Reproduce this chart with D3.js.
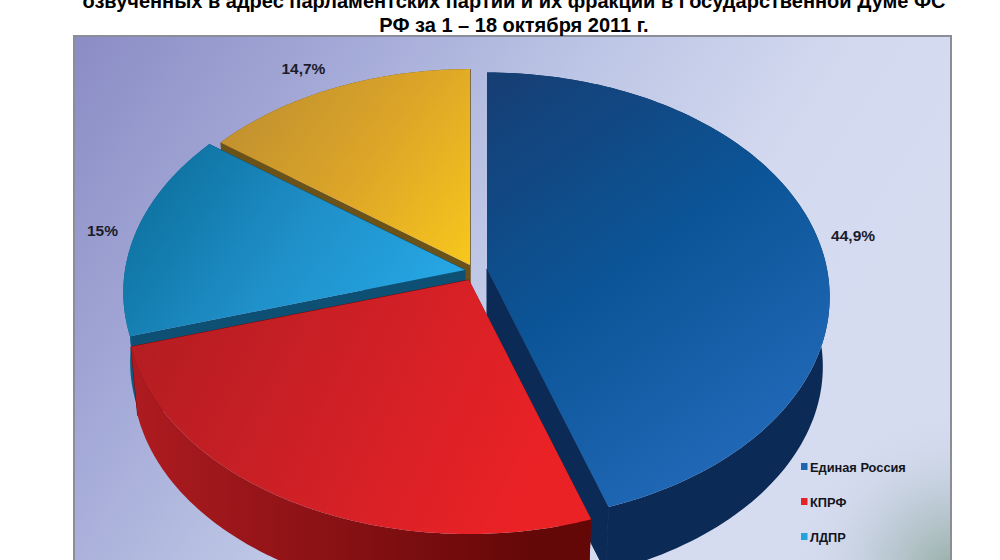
<!DOCTYPE html>
<html>
<head>
<meta charset="utf-8">
<script src="https://cdnjs.cloudflare.com/ajax/libs/d3/7.8.5/d3.min.js"></script>
<style>
    html, body { margin: 0; background: #fff; overflow: hidden; }
    text { font-family: "Liberation Sans", Arial, sans-serif; font-weight: bold; }
</style>
</head>
<body>
<div id="chart"></div>
<script>
const titleLines = [
    "озвученных в адрес парламентских партий и их фракций в Государственной Думе ФС",
    "РФ за 1 – 18 октября 2011 г."
];
const parties = ["Единая Россия", "КПРФ", "ЛДПР"];
const shares = [44.9, 25.4, 15, 14.7];

const width = 1000;
const height = 560;

// page geometry of the tilted pie, one entry per slice
const rx = 340, ry = 221, depth = 70, bottomScale = 0.98;
const apexes = [[487, 269], [469, 280], [465, 270], [470, 265]];
const tilts = [0.125, 0.13, 0.1, 0.1];
const sliceScale = [1, 1, 1, 0.975];
const labelShift = [[37, 6.5], [0, 0], [-33.5, 4], [-31, -14]];

const topColors = [
    ["#163f75", "#0b5496", "#2068b6"],
    ["#b41d22", "#cf2026", "#ea2226"],
    ["#0f74a3", "#1f8fc8", "#25a5e2"],
    ["#bd8e30", "#dca528", "#f8c81c"]
];
const wallColors = [
    ["#0c2a56", "#0c2a56"],
    ["#ad1b20", "#630707"],
    ["#0e5c85", "#0e5c85"],
    ["#6b5218", "#6b5218"]
];
const cutColors = ["#0c2a56", "#6d0a0a", "#0e5074", "#6b5218"];
const legendColors = ["#1f66b2", "#e4222a", "#23a2dc"];

const svg = d3.select("#chart").append("svg")
    .attr("width", width)
    .attr("height", height);

const defs = svg.append("defs");

function linearGrad(id, x1, y1, x2, y2, colors) {
    const g = defs.append("linearGradient")
        .attr("id", id)
        .attr("gradientUnits", "userSpaceOnUse")
        .attr("x1", x1).attr("y1", y1).attr("x2", x2).attr("y2", y2);
    colors.forEach((c, i) => {
        g.append("stop")
            .attr("offset", i / (colors.length - 1))
            .attr("stop-color", c);
    });
}

// background panel
linearGrad("panel", 73, 35, 800, 520, ["#8a8cc4", "#a2a7d6", "#bcc5e5", "#d3d9ef", "#d6dcf0"]);
const corner = defs.append("radialGradient")
    .attr("id", "corner")
    .attr("gradientUnits", "userSpaceOnUse")
    .attr("cx", 955).attr("cy", 575).attr("r", 170);
corner.append("stop").attr("offset", 0).attr("stop-color", "#93ab9f").attr("stop-opacity", 1);
corner.append("stop").attr("offset", 0.45).attr("stop-color", "#b4c4cc").attr("stop-opacity", 0.7);
corner.append("stop").attr("offset", 1).attr("stop-color", "#d6dcf0").attr("stop-opacity", 0);

svg.append("rect")
    .attr("x", 74).attr("y", 36)
    .attr("width", 877).attr("height", 560)
    .attr("fill", "url(#panel)")
    .attr("stroke", "#8b8e98")
    .attr("stroke-width", 2);
svg.append("rect")
    .attr("x", 75).attr("y", 37)
    .attr("width", 875).attr("height", 558)
    .attr("fill", "url(#corner)");

// gradient direction of each face
const topGradBox = [[487, 90, 740, 450], [150, 320, 520, 500], [170, 170, 400, 330], [230, 90, 470, 270]];
const wallGradBox = [[500, 0, 800, 0], [135, 0, 540, 0], [120, 0, 140, 0], [200, 0, 470, 0]];
shares.forEach((p, i) => {
    linearGrad(`top-${i}`, ...topGradBox[i], topColors[i]);
    linearGrad(`wall-${i}`, ...wallGradBox[i], wallColors[i]);
});

const arcs = d3.pie().sort(null).value(d => d)(shares);
const line = d3.line();

function rimPoint(angle, i, lower) {
    const s = sliceScale[i] / (1 + tilts[i] * Math.cos(angle));
    const k = lower ? bottomScale : 1;
    const x = apexes[i][0] + k * rx * Math.sin(angle) * s;
    const y = apexes[i][1] - k * ry * Math.cos(angle) * s + (lower ? depth : 0);
    return [x, y];
}

function rimPoints(d, i, lower) {
    const n = 120;
    return d3.range(n + 1).map(j =>
        rimPoint(d.startAngle + (d.endAngle - d.startAngle) * j / n, i, lower));
}

function cutFace(angle, i) {
    const low = [apexes[i][0], apexes[i][1] + depth];
    return [apexes[i], rimPoint(angle, i, false), rimPoint(angle, i, true), low];
}

// back to front, red lies over the cut face of blue
const drawOrder = [3, 2, 0, 1];
drawOrder.forEach(i => {
    const d = arcs[i];
    const g = svg.append("g").attr("class", "slice");

    g.append("path")
        .attr("d", line(cutFace(d.startAngle, i)) + "Z")
        .attr("fill", cutColors[i]);
    g.append("path")
        .attr("d", line(cutFace(d.endAngle, i)) + "Z")
        .attr("fill", cutColors[i])
        .attr("stroke", cutColors[i]);
    g.append("path")
        .attr("d", line(rimPoints(d, i, false).concat(rimPoints(d, i, true).reverse())) + "Z")
        .attr("fill", `url(#wall-${i})`);
    g.append("path")
        .attr("d", line([apexes[i]].concat(rimPoints(d, i, false))) + "Z")
        .attr("fill", `url(#top-${i})`);
});

// percent labels, the red one falls below the photographed area
svg.selectAll(".share-label")
    .data(arcs.filter(d => d.index !== 1))
    .enter().append("text")
    .attr("class", "share-label")
    .attr("text-anchor", "middle")
    .attr("font-size", 15.5)
    .attr("fill", "#1b1c2c")
    .attr("x", d => rimPoint((d.startAngle + d.endAngle) / 2, d.index, false)[0] + labelShift[d.index][0])
    .attr("y", d => rimPoint((d.startAngle + d.endAngle) / 2, d.index, false)[1] + labelShift[d.index][1])
    .text(d => String(d.data).replace(".", ",") + "%");

// legend
const legendY = d3.scalePoint().domain(parties).range([471.5, 541.5]);

svg.selectAll(".legend-mark")
    .data(parties)
    .enter().append("rect")
    .attr("class", "legend-mark")
    .attr("x", 801)
    .attr("y", d => legendY(d) - 8.5)
    .attr("width", 6.5)
    .attr("height", 7)
    .attr("fill", (d, i) => legendColors[i]);

svg.selectAll(".legend-label")
    .data(parties)
    .enter().append("text")
    .attr("class", "legend-label")
    .attr("x", 810)
    .attr("y", d => legendY(d))
    .attr("font-size", 12.8)
    .attr("fill", "#14151c")
    .text(d => d);

// title, first visible line is cut by the top edge
svg.selectAll(".title-line")
    .data(titleLines)
    .enter().append("text")
    .attr("class", "title-line")
    .attr("x", 514)
    .attr("y", (d, i) => 8 + i * 23.5)
    .attr("text-anchor", "middle")
    .attr("font-size", 20)
    .attr("fill", "#000")
    .text(d => d);
</script>
</body>
</html>
